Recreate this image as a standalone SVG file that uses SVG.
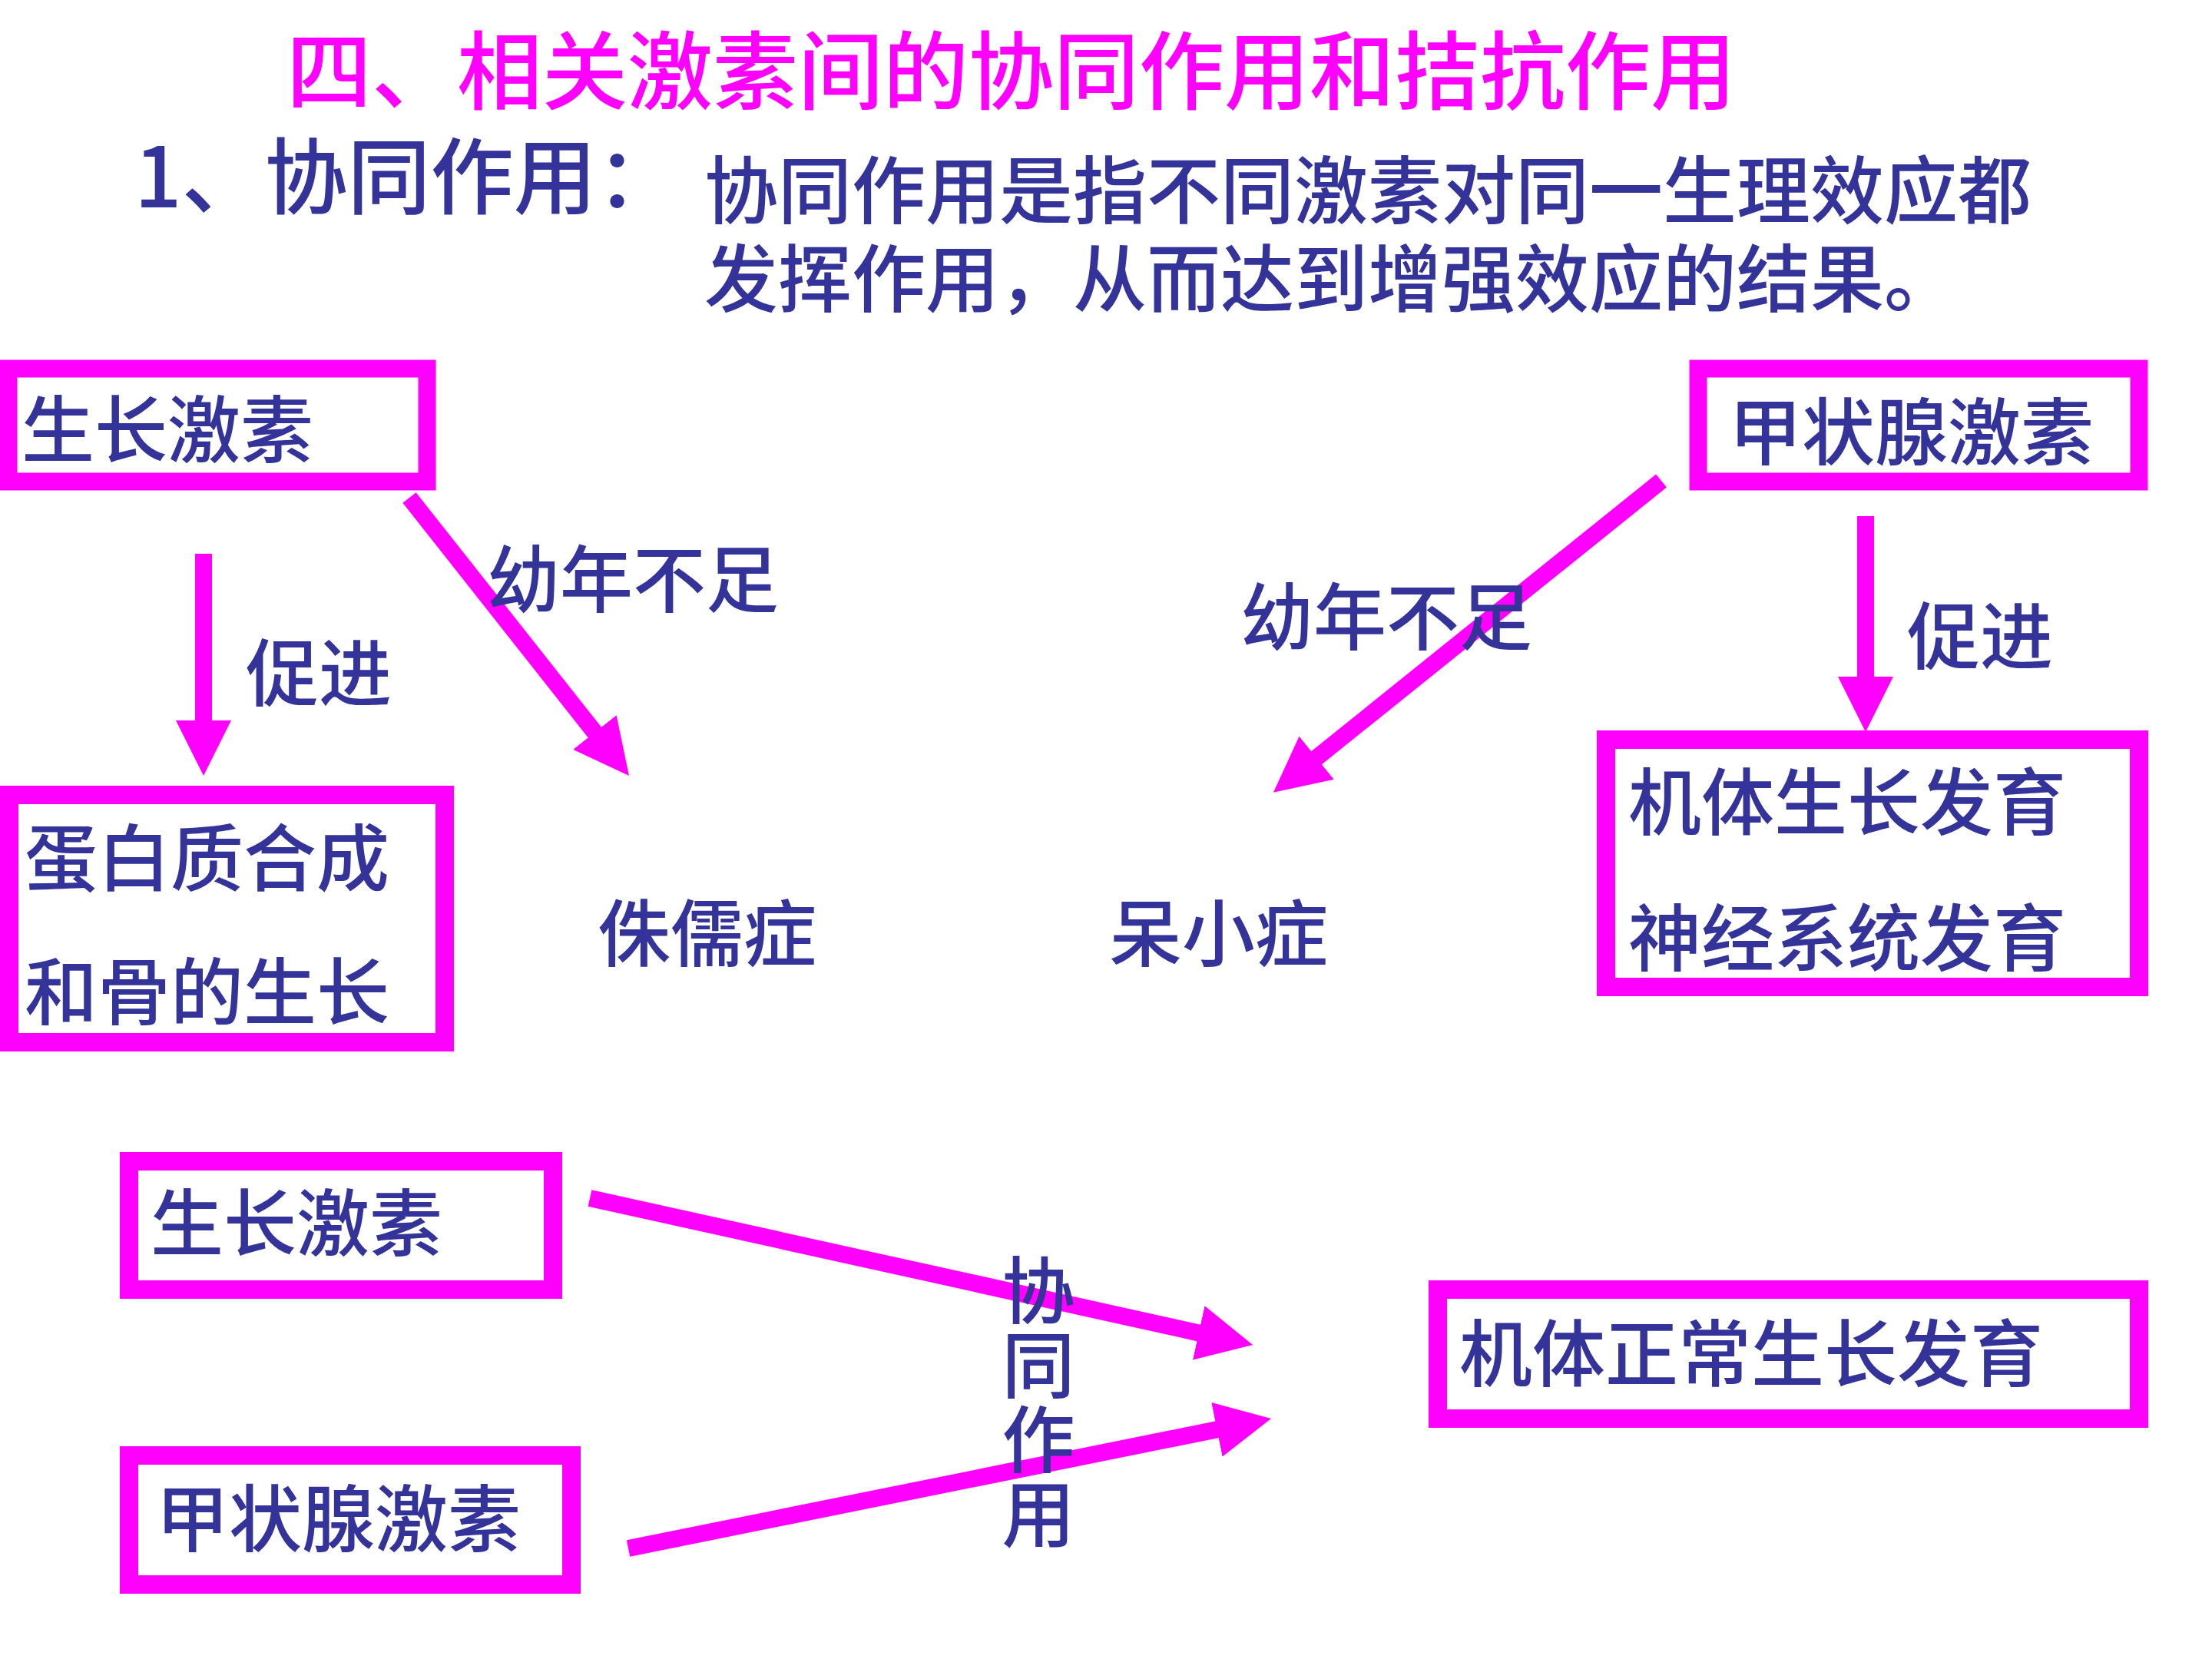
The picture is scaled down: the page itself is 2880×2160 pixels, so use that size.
<svg xmlns="http://www.w3.org/2000/svg" width="2880" height="2160" viewBox="0 0 2880 2160">
<defs>
<style>
.t{font-family:"Noto Sans CJK SC","Noto Sans CJK TC",sans-serif;fill:#333399;font-size:95px;font-weight:500}
.box{fill:#ffffff;stroke:#ff00ff;stroke-width:24}
.con{stroke:#ff00ff;stroke-width:22;fill:none;marker-end:url(#ah)}
</style>
<marker id="ah" markerUnits="userSpaceOnUse" markerWidth="72" markerHeight="72" refX="2" refY="36" orient="auto" viewBox="0 0 72 72">
<path d="M0,0 L72,36 L0,72 z" fill="#ff00ff"/>
</marker>
</defs>
<rect width="2880" height="2160" fill="#ffffff"/>
<g id="title">
<text class="t" x="373" y="134" style="font-size:111px;fill:#ff00ff">四、相关激素间的协同作用和拮抗作用</text>
<text class="t" x="175" y="270" style="font-size:108px">1、协同作用：</text>
<text class="t" style="font-size:96px"><tspan x="917" y="283">协同作用是指不同激素对同一生理效应都</tspan><tspan x="917" y="398">发挥作用，从而达到增强效应的结果。</tspan></text>
</g>
<g id="connectors">
<line class="con" x1="265" y1="721" x2="265" y2="940"/>
<line class="con" x1="533" y1="648" x2="775.6" y2="955.1"/>
<line class="con" x1="2163" y1="626" x2="1712.5" y2="988"/>
<line class="con" x1="2429" y1="672" x2="2429" y2="883"/>
<line class="con" x1="768" y1="1560" x2="1562.7" y2="1735.9"/>
<line class="con" x1="818" y1="2016" x2="1586.4" y2="1860.9"/>
</g>
<g id="gh-top">
<rect class="box" x="11" y="480" width="545" height="147" style="stroke-width:23"/>
<text class="t" x="28" y="595">生长激素</text>
</g>
<g id="label-promote-left"><text class="t" x="320" y="912">促进</text></g>
<g id="label-deficit-left"><text class="t" x="634" y="790">幼年不足</text></g>
<g id="protein">
<rect class="box" x="12" y="1035" width="567" height="322"/>
<text class="t" x="32" y="1153">蛋白质合成</text>
<text class="t" x="32" y="1327">和骨的生长</text>
</g>
<g id="dwarfism"><text class="t" x="778" y="1251">侏儒症</text></g>
<g id="th-top">
<rect class="box" x="2211" y="480" width="574" height="147" style="stroke-width:23"/>
<text class="t" x="2251" y="598">甲状腺激素</text>
</g>
<g id="label-deficit-right"><text class="t" x="1615" y="839">幼年不足</text></g>
<g id="label-promote-right"><text class="t" x="2483" y="864">促进</text></g>
<g id="development">
<rect class="box" x="2091" y="963" width="694" height="322"/>
<text class="t" x="2120" y="1080">机体生长发育</text>
<text class="t" x="2120" y="1257">神经系统发育</text>
</g>
<g id="cretinism"><text class="t" x="1444" y="1251">呆小症</text></g>
<g id="gh-bottom">
<rect class="box" x="168" y="1512" width="552" height="167"/>
<text class="t" x="196" y="1628">生长激素</text>
</g>
<g id="th-bottom">
<rect class="box" x="168" y="1895" width="576" height="168"/>
<text class="t" x="203" y="2013">甲状腺激素</text>
</g>
<g id="label-synergy">
<text class="t" x="1352" y="1632" style="writing-mode:vertical-rl;letter-spacing:2px">协同作用</text>
</g>
<g id="normal-growth">
<rect class="box" x="1872" y="1679" width="913" height="168"/>
<text class="t" x="1900" y="1798">机体正常生长发育</text>
</g>
</svg>
